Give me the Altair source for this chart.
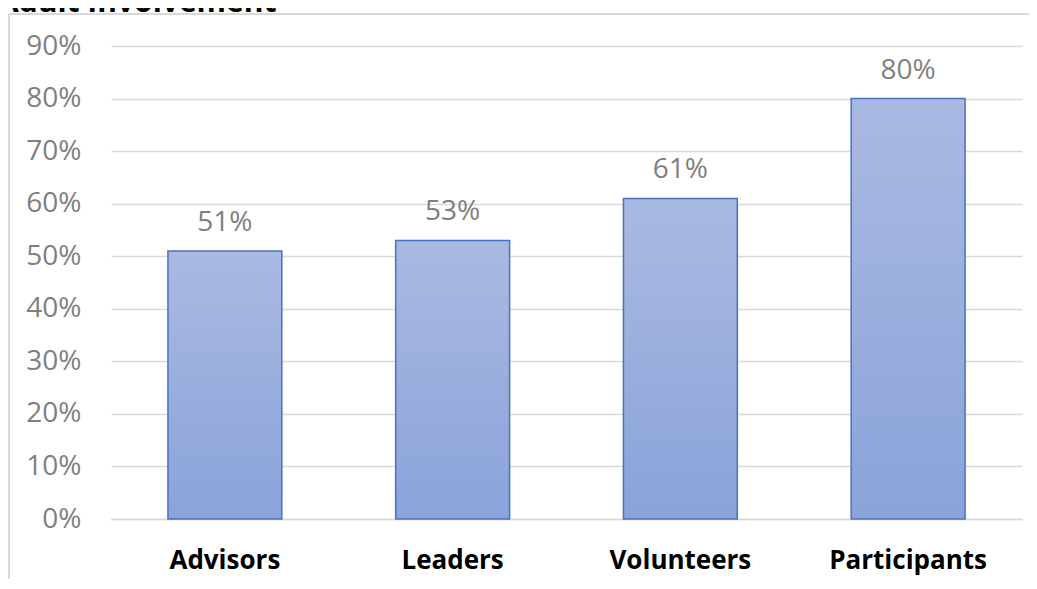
import altair as alt
import pandas as pd

categories = ["Advisors", "Leaders", "Volunteers", "Participants"]
values = [0.51, 0.53, 0.61, 0.80]
title_text = "Adult Involvement"

df = pd.DataFrame({"group": categories, "share": values})

W, H = 911, 473
PL, PT, PR, PB = 103, 38, 7, 60

x = alt.X("group:N", sort=categories, title=None,
          scale=alt.Scale(paddingInner=0.5, paddingOuter=0.25),
          axis=alt.Axis(labelAngle=0, labelFont="Open Sans", labelFontSize=26,
                        labelFontWeight="bold", labelColor="#000000",
                        labelPadding=28, ticks=False, domain=True,
                        domainColor="#d9d9d9", domainWidth=1.5, grid=False))
y = alt.Y("share:Q", title=None,
          scale=alt.Scale(domain=[0, 0.9], nice=False),
          axis=alt.Axis(format=".0%", values=[i / 10 for i in range(10)],
                        labelFont="Open Sans", labelFontSize=28,
                        labelColor="#7f7f7f", labelPadding=30, ticks=False,
                        domain=False, grid=True, gridColor="#d9d9d9",
                        gridWidth=1.5))

grad = alt.Gradient(gradient="linear", x1=0, x2=0, y1=0, y2=1,
                    stops=[alt.GradientStop(color="#aab9e1", offset=0),
                           alt.GradientStop(color="#8aa3da", offset=1)])

bars = alt.Chart(df).mark_bar(color=grad, stroke="#4472c4", strokeWidth=1.5).encode(x=x, y=y)

labels = alt.Chart(df).mark_text(font="Open Sans", fontSize=28, color="#7f7f7f",
                                 baseline="alphabetic", dy=-20).encode(
    x=alt.X("group:N", sort=categories),
    y="share:Q",
    text=alt.Text("share:Q", format=".0%"))

# chart frame (light gray border, left and top)
frame_left = alt.Chart(df).mark_rule(color="#d9d9d9", strokeWidth=1.5).encode(
    x=alt.value(-PL + 1), y=alt.value(-PT + 6), y2=alt.value(H + PB))
frame_top = alt.Chart(df).mark_rule(color="#d9d9d9", strokeWidth=1.5).encode(
    x=alt.value(-PL + 1), x2=alt.value(W + PR), y=alt.value(-PT + 6))

title = alt.Chart(pd.DataFrame({"t": [title_text]})).mark_text(
    font="Open Sans", fontSize=30, fontWeight="bold", color="#000000",
    align="left", baseline="alphabetic").encode(
    x=alt.value(-PL - 10), y=alt.value(-PT + 4), text="t:N")

chart = alt.layer(frame_left, frame_top, bars, labels, title).properties(
    width=W, height=H,
    autosize=alt.AutoSizeParams(type="none"),
    padding={"left": PL, "top": PT, "right": PR, "bottom": PB},
).configure_view(stroke=None)

chart.save("out.html", embed_options={"renderer": "svg", "actions": False})
